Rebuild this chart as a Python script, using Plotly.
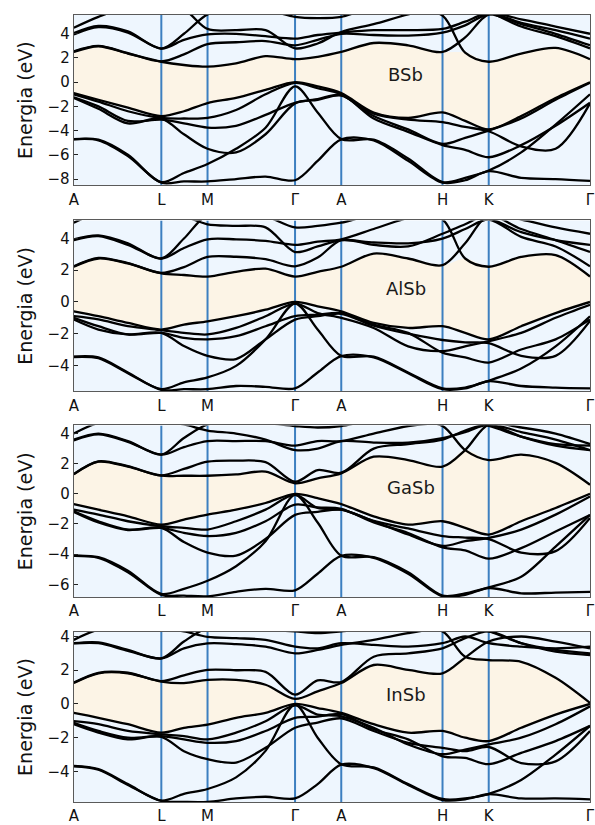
import numpy as np
import plotly.graph_objects as go

# k-path sample positions (path length units) and high-symmetry labels
kpts = [0, 25, 55, 89, 112, 136, 165, 195, 225, 248, 272, 305, 340, 375, 398, 422, 455, 490, 525]
tick_pos = [0, 89, 136, 225, 272, 375, 422, 525]
tick_labels = ["A", "L", "M", "Γ", "A", "H", "K", "Γ"]
compounds = ["BSb", "AlSb", "GaSb", "InSb"]

# ---------------- BSb ----------------
bsb_cond = [
    [2.5, 2.97, 2.37, 1.69, 1.42, 1.28, 1.55, 2.15, 1.9, 2.1, 2.5, 3.24, 3.05, 2.5, 3.7, 5.6, 5.2, 4.6, 4.0],
    [2.55, 3.0, 2.4, 1.72, 2.3, 3.15, 3.3, 3.4, 3.05, 3.5, 4.0, 3.9, 3.85, 4.1, 4.7, 5.6, 4.8, 4.0, 3.05],
    [4.05, 4.65, 4.2, 2.78, 4.0, 5.6, 6.2, 6.0, 5.4, 5.3, 5.4, 6.2, 6.2, 5.5, 2.45, 1.69, 2.37, 2.83, 1.9],
    [3.95, 4.55, 4.1, 2.78, 3.5, 3.95, 4.0, 3.8, 3.6, 3.9, 4.1, 4.3, 4.3, 4.4, 5.0, 5.7, 4.9, 4.3, 3.6],
    [4.5, 5.4, 6.2, 6.2, 6.0, 4.4, 4.3, 4.3, 2.8, 3.2, 4.15, 4.8, 5.6, 6.2, 6.2, 5.8, 4.6, 3.8, 2.8],
]
bsb_val = [
    [-0.9, -1.45, -2.1, -2.8, -2.4, -1.72, -1.3, -0.63, 0.0, -0.35, -0.9, -2.5, -2.95, -2.5, -3.2, -3.9, -2.8, -1.3, 0.0],
    [-1.0, -1.6, -2.4, -2.95, -3.0, -2.95, -2.3, -1.0, -0.05, -0.5, -1.0, -2.8, -3.9, -5.1, -4.6, -4.0, -3.0, -1.45, -0.05],
    [-1.25, -2.0, -3.2, -3.1, -3.4, -3.75, -3.6, -2.7, -1.7, -1.4, -1.05, -3.0, -4.1, -5.2, -5.6, -6.2, -5.2, -3.6, -1.7],
    [-1.3, -2.2, -3.4, -3.0, -4.3, -5.5, -5.8, -4.3, -1.75, -1.45, -1.1, -2.6, -3.1, -3.3, -3.7, -4.05, -5.3, -5.5, -1.75],
    [-4.7, -4.75, -6.0, -8.26, -7.5, -6.76, -5.5, -3.76, -0.35, -2.5, -4.7, -4.75, -6.3, -8.25, -7.9, -7.3, -5.8, -3.5, -1.0],
    [-4.72, -4.8, -6.1, -8.3, -8.2, -8.2, -8.0, -7.8, -8.1, -6.5, -4.72, -4.8, -6.5, -8.3, -8.1, -7.35, -7.9, -8.0, -8.15],
]

# ---------------- AlSb ----------------
alsb_cond = [
    [2.22, 2.74, 2.43, 1.8, 1.7, 1.6, 1.9, 2.1, 1.6, 1.9, 2.22, 3.05, 2.74, 2.32, 3.7, 5.5, 5.2, 4.7, 4.3],
    [2.25, 2.78, 2.45, 1.83, 2.2, 2.84, 2.85, 2.7, 2.25, 2.8, 3.9, 3.6, 3.5, 4.3, 4.9, 5.5, 4.6, 3.9, 3.15],
    [3.95, 4.2, 3.7, 2.74, 4.0, 5.5, 5.6, 5.4, 4.7, 4.8, 5.0, 5.5, 5.5, 5.2, 2.74, 2.22, 2.84, 2.95, 1.6],
    [3.9, 4.15, 3.6, 2.74, 3.4, 3.95, 3.95, 3.85, 3.6, 3.8, 3.95, 4.6, 5.3, 5.6, 5.6, 5.3, 4.4, 3.9, 3.6],
    [5.0, 5.6, 5.6, 5.6, 5.4, 4.9, 4.8, 4.7, 3.15, 3.5, 3.9, 3.75, 3.7, 4.0, 4.6, 5.2, 4.1, 3.5, 2.25],
]
alsb_val = [
    [-0.59, -0.9, -1.32, -1.74, -1.43, -1.22, -0.9, -0.49, 0.0, -0.28, -0.59, -1.32, -1.64, -1.53, -1.95, -2.36, -1.53, -0.7, 0.0],
    [-0.9, -1.1, -1.53, -1.78, -1.95, -2.05, -1.64, -0.9, -0.1, -0.7, -1.0, -1.64, -2.8, -3.1, -2.8, -2.47, -1.95, -1.0, -0.18],
    [-1.0, -1.53, -2.05, -1.95, -2.26, -2.36, -2.16, -1.53, -0.9, -0.8, -0.7, -1.43, -1.95, -3.2, -3.5, -3.82, -3.0, -2.36, -1.1],
    [-1.11, -1.74, -2.05, -1.95, -2.78, -3.4, -3.6, -2.36, -1.11, -0.9, -0.75, -1.5, -2.0, -2.4, -2.55, -2.6, -3.4, -3.4, -1.2],
    [-3.45, -3.5, -4.45, -5.5, -5.07, -4.76, -4.03, -2.36, -0.1, -1.74, -3.4, -3.45, -4.45, -5.45, -5.4, -4.97, -4.2, -2.8, -0.9],
    [-3.47, -3.55, -4.5, -5.55, -5.5, -5.5, -5.3, -5.35, -5.45, -4.45, -3.42, -3.5, -4.5, -5.5, -5.45, -5.0, -5.3, -5.4, -5.45],
]

# ---------------- GaSb ----------------
gasb_cond = [
    [1.29, 2.13, 1.8, 1.2, 1.2, 1.2, 1.29, 1.47, 0.7, 1.03, 1.36, 2.46, 2.24, 1.8, 2.9, 4.6, 4.4, 4.0, 3.3],
    [1.32, 2.16, 1.83, 1.23, 1.65, 2.13, 2.2, 2.1, 0.8, 1.58, 1.4, 3.0, 3.3, 3.6, 4.2, 4.6, 3.8, 3.2, 2.9],
    [3.6, 4.0, 3.5, 2.6, 3.7, 4.6, 4.8, 4.7, 4.5, 4.4, 4.5, 4.9, 4.9, 4.5, 2.9, 2.24, 2.6, 2.05, 0.6],
    [3.55, 3.95, 3.45, 2.6, 3.1, 3.5, 3.5, 3.5, 3.2, 3.5, 3.5, 4.0, 4.5, 4.7, 4.7, 4.5, 3.8, 3.3, 3.2],
    [4.0, 4.7, 4.8, 4.8, 4.6, 4.2, 4.0, 3.6, 2.9, 3.0, 3.5, 3.4, 3.4, 3.7, 4.1, 4.6, 4.1, 3.6, 2.9],
]
gasb_val = [
    [-0.68, -1.05, -1.49, -2.04, -1.71, -1.38, -1.05, -0.61, 0.0, -0.29, -0.68, -1.49, -2.04, -1.82, -2.26, -2.7, -1.82, -0.94, 0.0],
    [-1.05, -1.38, -1.82, -2.15, -2.26, -2.37, -1.82, -1.05, -0.07, -0.94, -1.05, -1.82, -2.7, -3.46, -3.14, -2.92, -2.37, -1.38, -0.18],
    [-1.16, -1.82, -2.37, -2.26, -2.59, -2.8, -2.59, -1.82, -0.72, -0.9, -1.0, -1.9, -2.6, -3.55, -3.75, -4.3, -3.6, -2.5, -1.4],
    [-1.2, -1.9, -2.4, -2.26, -3.2, -3.9, -4.1, -3.0, -1.4, -1.2, -1.05, -1.8, -2.3, -2.8, -2.9, -3.0, -3.9, -3.8, -1.6],
    [-4.1, -4.2, -5.1, -6.64, -6.3, -5.77, -4.8, -3.14, -0.07, -1.9, -4.1, -4.2, -5.2, -6.75, -6.6, -6.2, -5.5, -3.5, -1.4],
    [-4.12, -4.25, -5.2, -6.7, -6.75, -6.8, -6.5, -6.3, -6.4, -5.3, -4.12, -4.25, -5.3, -6.8, -6.7, -6.25, -6.6, -6.55, -6.5],
]

# ---------------- InSb ----------------
insb_cond = [
    [1.24, 1.82, 1.82, 1.33, 1.24, 1.43, 1.43, 1.14, 0.3, 0.75, 1.24, 2.31, 2.02, 1.82, 2.75, 3.7, 4.0, 3.7, 3.3],
    [1.27, 1.85, 1.85, 1.36, 1.7, 2.02, 2.0, 1.9, 0.55, 1.4, 1.3, 2.8, 3.0, 3.3, 3.9, 4.3, 3.6, 3.1, 2.9],
    [3.6, 3.65, 3.2, 2.7, 3.7, 4.5, 4.5, 4.4, 4.3, 4.2, 4.3, 4.5, 4.5, 4.3, 2.8, 2.6, 2.5, 1.55, 0.06],
    [3.59, 3.6, 3.15, 2.7, 3.3, 3.59, 3.55, 3.4, 3.0, 3.2, 3.5, 3.8, 4.2, 4.5, 4.5, 4.3, 3.6, 3.2, 3.0],
    [3.8, 4.4, 4.5, 4.5, 4.3, 3.98, 3.9, 3.8, 3.4, 3.3, 3.6, 3.5, 3.4, 3.6, 4.0, 3.6, 3.4, 3.3, 3.4],
]
insb_val = [
    [-0.53, -0.82, -1.2, -1.7, -1.41, -1.22, -0.82, -0.53, 0.0, -0.24, -0.53, -1.2, -1.7, -1.6, -2.0, -2.2, -1.41, -0.63, 0.0],
    [-1.02, -1.2, -1.6, -1.8, -1.9, -2.1, -1.7, -1.02, -0.08, -0.63, -0.73, -1.41, -2.4, -2.98, -2.7, -2.4, -2.0, -1.2, -0.14],
    [-1.12, -1.6, -2.0, -1.9, -2.1, -2.3, -2.2, -1.6, -0.82, -0.75, -0.6, -1.5, -2.1, -3.1, -3.2, -3.57, -2.9, -2.2, -1.3],
    [-1.2, -1.7, -2.1, -1.95, -2.8, -3.27, -3.47, -2.6, -1.41, -1.1, -0.85, -1.6, -2.3, -2.6, -2.8, -2.55, -3.5, -3.4, -1.6],
    [-3.67, -3.86, -4.75, -5.73, -5.33, -5.04, -4.35, -2.78, -0.04, -2.0, -3.57, -3.76, -4.75, -5.63, -5.6, -5.33, -4.5, -3.0, -1.3],
    [-3.7, -3.9, -4.8, -5.75, -5.8, -5.8, -5.6, -5.5, -5.6, -4.75, -3.6, -3.8, -4.8, -5.7, -5.65, -5.35, -5.6, -5.6, -5.65],
]

label_k = [337, 338, 343, 338]
label_E = [0.6, 0.86, 0.42, 0.55]
y_ranges = [[-8.53, 5.56], [-5.64, 5.14], [-6.86, 4.54], [-5.82, 4.27]]
y_ticks = [[-8, -6, -4, -2, 0, 2, 4], [-4, -2, 0, 2, 4], [-6, -4, -2, 0, 2, 4], [-4, -2, 0, 2, 4]]

panels = [
    (bsb_cond, bsb_val),
    (alsb_cond, alsb_val),
    (gasb_cond, gasb_val),
    (insb_cond, insb_val),
]

W, H = 595, 825
left_px = 70
panel_px = [(11, 183), (218.3, 390.7), (425, 598.3), (633.3, 805)]

FONT = "DejaVu Sans"
BG = "#eef6fe"
GAP = "#fcf4e6"
VLINE = "#3c7fc0"
SPINE = "#5a5a5a"

fig = go.Figure()
layout = dict(
    width=W, height=H,
    margin=dict(l=0, r=0, t=0, b=0),
    paper_bgcolor="white",
    plot_bgcolor=BG,
    showlegend=False,
    font=dict(family=FONT, size=15, color="#111"),
)

for i, (cond, val) in enumerate(panels):
    sfx = "" if i == 0 else str(i + 1)
    xa, ya = "x" + sfx, "y" + sfx
    C = np.array(cond)
    V = np.array(val)
    gap_top = C.min(axis=0)
    gap_bot = V.max(axis=0)
    common = dict(xaxis=xa, yaxis=ya, hoverinfo="skip", showlegend=False)
    fig.add_trace(go.Scatter(x=kpts, y=gap_bot, mode="lines",
                             line=dict(width=0, shape="spline", smoothing=0.9), **common))
    fig.add_trace(go.Scatter(x=kpts, y=gap_top, mode="lines", fill="tonexty", fillcolor=GAP,
                             line=dict(width=0, shape="spline", smoothing=0.9), **common))
    for t in tick_pos[1:-1]:
        fig.add_trace(go.Scatter(x=[t, t], y=y_ranges[i], mode="lines",
                                 line=dict(color=VLINE, width=2), **common))
    for band in list(cond) + list(val):
        fig.add_trace(go.Scatter(x=kpts, y=band, mode="lines",
                                 line=dict(color="black", width=2.3, shape="spline", smoothing=0.9),
                                 **common))
    fig.add_annotation(x=label_k[i], y=label_E[i], xref=xa, yref=ya, text=compounds[i],
                       showarrow=False, font=dict(family=FONT, size=18, color="#1a1a1a"))

    top, bot = panel_px[i]
    dom = [1 - bot / H, 1 - top / H]
    layout["xaxis" + sfx] = dict(
        domain=[left_px / W, 1.0], range=[0, 525], anchor=ya,
        tickmode="array", tickvals=tick_pos, ticktext=tick_labels,
        ticks="", showgrid=False, zeroline=False, ticklabeloverflow="allow",
        showline=True, mirror=True, linecolor=SPINE, linewidth=1.3,
        tickfont=dict(family=FONT, size=15, color="#111"),
    )
    layout["yaxis" + sfx] = dict(
        domain=dom, range=y_ranges[i], anchor=xa,
        tickmode="array", tickvals=y_ticks[i],
        ticktext=[("−" + str(-v)) if v < 0 else str(v) for v in y_ticks[i]],
        ticks="inside", ticklen=4, tickcolor="#222", tickwidth=1,
        showgrid=False, zeroline=False,
        showline=True, mirror=True, linecolor=SPINE, linewidth=1.3,
        tickfont=dict(family=FONT, size=15, color="#111"),
        title=dict(text="Energia (eV)", font=dict(family=FONT, size=19, color="#111"), standoff=9),
    )

fig.update_layout(**layout)
fig.write_html("out.html")
